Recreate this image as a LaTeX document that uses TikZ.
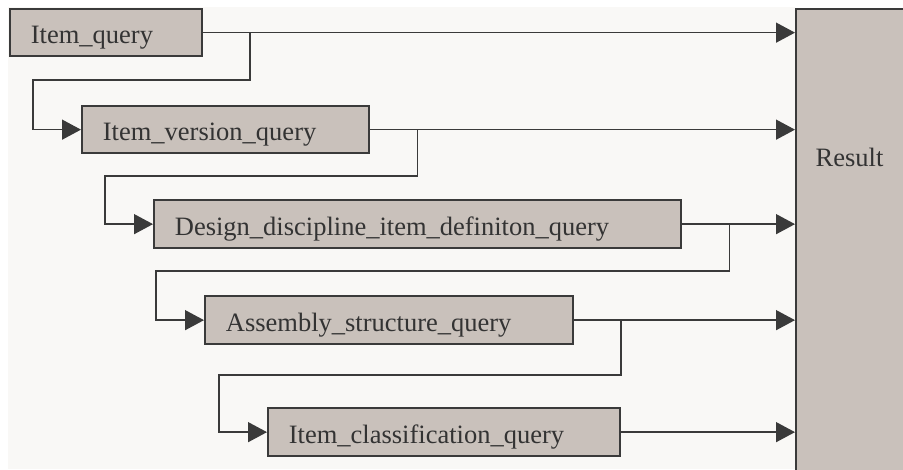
\documentclass[tikz,border=0pt]{standalone}
\usepackage{fontspec}
\setmainfont{Liberation Serif}
\usetikzlibrary{arrows.meta}
\definecolor{panel}{HTML}{F9F8F6}
\definecolor{boxfill}{HTML}{C9C1BB}
\definecolor{ink}{HTML}{3A3A3A}
\definecolor{txt}{HTML}{333333}
\begin{document}
\begin{tikzpicture}[x=1pt,y=-1pt,
  lbl/.style={text=txt, font=\fontsize{26.5pt}{30pt}\selectfont},
  qbox/.style={lbl, draw=ink, line width=1.8pt, fill=boxfill, anchor=north west,
    inner xsep=21pt, inner ysep=2pt, minimum height=47.5pt,
    text height=22pt, text depth=0pt, align=left},
  conn/.style={draw=ink, line width=1.4pt},
  arr/.style={conn, -{Triangle[length=19pt,width=20pt,fill=ink]}}]
\useasboundingbox (0,0) rectangle (903,470);
\clip (0,0) rectangle (903,470);
\fill[white] (0,0) rectangle (903,470);
\fill[panel] (8,7) rectangle (795,469);
% result
\node[draw=ink, line width=1.8pt, fill=boxfill, anchor=north west,
  minimum width=200pt, minimum height=520pt, inner sep=0pt] (result) at (795,8) {};
\node[lbl, anchor=base] (resulttext) at (849.5,167) {Result};
% query boxes
\node[qbox, text width=150pt] (q1) at (9,8) {Item\_query};
\node[qbox, text width=245pt] (q2) at (81,105) {Item\_version\_query};
\node[qbox, text width=485pt] (q3) at (153,199.5) {Design\_discipline\_item\_definiton\_query};
\node[qbox, text width=326pt] (q4) at (204,295.5) {Assembly\_structure\_query};
\node[qbox, text width=310pt] (q5) at (267,407.5) {Item\_classification\_query};
% turn points
\coordinate (k1) at (33,80);
\coordinate (k2) at (105,176);
\coordinate (k3) at (156,271);
\coordinate (k4) at (219,375);
% connectors to result
\foreach \q in {q1,q2,q3,q4,q5}
  \draw[arr] (\q.east) -- (\q.east -| result.west);
% cascading connectors
\draw[arr] ([xshift=47pt]q1.east) |- (k1) |- (q2.west);
\draw[arr] ([xshift=47.5pt]q2.east) |- (k2) |- (q3.west);
\draw[arr] ([xshift=47.5pt]q3.east) |- (k3) |- (q4.west);
\draw[arr] ([xshift=47pt]q4.east) |- (k4) |- (q5.west);
\end{tikzpicture}
\end{document}
